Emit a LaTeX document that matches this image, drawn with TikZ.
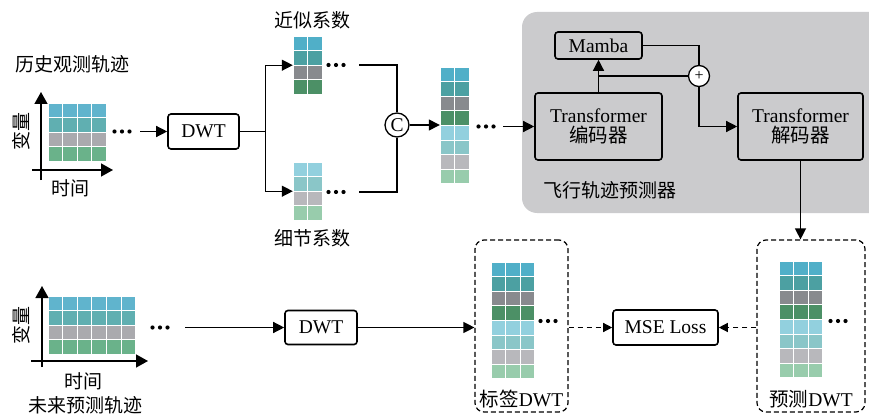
\documentclass[tikz,border=0pt]{standalone}
\usepackage{fontspec}
\setmainfont{Liberation Serif}
\newfontfamily\cjk{Noto Sans CJK SC}
\usetikzlibrary{arrows.meta, positioning}

\definecolor{panelgray}{RGB}{203,203,205}
\definecolor{hblue}{RGB}{96,180,205}
\definecolor{hteal}{RGB}{96,175,177}
\definecolor{hgray}{RGB}{170,170,174}
\definecolor{hgreen}{RGB}{106,178,138}
\definecolor{dblue}{RGB}{80,175,200}
\definecolor{dteal}{RGB}{76,160,162}
\definecolor{dgray}{RGB}{136,138,142}
\definecolor{dgreen}{RGB}{76,144,102}
\definecolor{lblue}{RGB}{146,208,222}
\definecolor{lteal}{RGB}{138,198,200}
\definecolor{lgray}{RGB}{184,184,188}
\definecolor{lgreen}{RGB}{152,204,172}

% grid of coefficient cells: name, left, top, columns, rows, colours
\newcommand{\coefgrid}[6]{%
  \foreach \rowcol [count=\ri from 0] in {#6}
    \foreach \k in {1,...,#4}
      \filldraw[fill=\rowcol, draw=white, line width=0.8pt]
        ({#2+(\k-1)*14.6}, {#3+\ri*14.6}) rectangle ++(14.6,14.6);
  \node[inner sep=0, minimum width={#4*14.6pt}, minimum height={#5*14.6pt}]
    (#1) at ({#2+#4*7.3}, {#3+#5*7.3}) {};
}
% three heavy dots: name, x, y
\newcommand{\dotrow}[3]{%
  \node[inner sep=0, minimum width=22pt, minimum height=6pt] (#1) at (#2,#3) {};
  \foreach \i in {-1,0,1} \fill ([xshift=\i*7.5pt]#1.center) circle (2.1pt);
}

\begin{document}
\begin{tikzpicture}[x=1pt, y=-1pt,
  font=\fontsize{19.5}{22}\selectfont,
  box/.style={draw, line width=1.6pt, rounded corners=3pt, inner sep=0pt},
  dashbox/.style={draw, dash pattern=on 5pt off 3pt, line width=1.2pt, rounded corners=9pt, inner sep=0pt},
  op/.style={draw, circle, line width=1.3pt, fill=white, inner sep=0pt},
  arrow/.style={-{Triangle[length=11pt, width=11pt]}, line width=1.3pt},
  dasharrow/.style={-{Triangle[length=9pt, width=9pt]}, line width=1.3pt, dash pattern=on 5pt off 4pt},
  axis/.style={-{Triangle[length=12pt, width=13pt]}, line width=1.5pt},
  txt/.style={font=\cjk\fontsize{19}{22}\selectfont},
]
\useasboundingbox (0,0) rectangle (869,414);
\clip (0,0) rectangle (869,414);

% predictor panel
\fill[panelgray, rounded corners=15pt] (522,12) rectangle (900,213);
\node[txt, anchor=west] (predname) at (540,190) {飞行轨迹预测器};

% history input
\node[txt, anchor=west] (histname) at (12,64) {历史观测轨迹};
\coefgrid{hist}{48}{103}{4}{4}{hblue,hteal,hgray,hgreen}
\draw[axis] (32,170) -- (113,170);
\draw[axis] (41,180) -- (41,92);
\node[txt, rotate=90] (histvar) at (21,132) {变量};
\node[txt] (histtime) at (70,188) {时间};
\dotrow{dotsA}{122}{131.5}
\node[box, minimum width=71pt, minimum height=35pt] (dwtA) at (203.5,131.5) {DWT};
\draw[arrow] ([xshift=7pt]dotsA.east) -- (dwtA.west);

% wavelet coefficients
\node[txt] (approxname) at (312,20) {近似系数};
\coefgrid{approx}{293}{36}{2}{4}{dblue,dteal,dgray,dgreen}
\dotrow{dotsB}{336}{65}
\node[txt] (detailname) at (312,238) {细节系数};
\coefgrid{detail}{293}{162}{2}{4}{lblue,lteal,lgray,lgreen}
\dotrow{dotsE}{336}{192}
\draw[line width=1.3pt] (dwtA.east) -- ++(26,0) coordinate (fork);
\draw[arrow] (fork) |- (approx.west);
\draw[arrow] (fork) |- (detail.west);

% concatenation
\node[op, minimum size=24pt] (cat) at (397,125) {C};
\draw[line width=1.3pt] ([xshift=12pt]dotsB.east) -| (cat.north);
\draw[line width=1.3pt] ([xshift=12pt]dotsE.east) -| (cat.south);
\coefgrid{catgrid}{440}{67}{2}{8}{dblue,dteal,dgray,dgreen,lblue,lteal,lgray,lgreen}
\draw[arrow] (cat.east) -- (catgrid.west |- cat.east);
\dotrow{dotsC}{486}{126.5}

% predictor
\node[box, minimum width=87pt, minimum height=27pt] (mamba) at (598.5,45.5) {Mamba};
\node[box, minimum width=127pt, minimum height=67pt, align=center] (enc) at (598.5,126.5)
  {Transformer\\[-2pt]{\cjk 编码器}};
\node[box, minimum width=125pt, minimum height=67pt, align=center] (dec) at (800.5,126.5)
  {Transformer\\[-2pt]{\cjk 解码器}};
\node[op, minimum size=21pt, font=\fontsize{16}{16}\selectfont] (plus) at (699,76) {+};
\draw[arrow] ([xshift=6pt]dotsC.east) -- (enc.west);
\draw[arrow] (enc.north) -- (mamba.south);
\draw[line width=1.3pt] (enc.north |- plus.west) -- (plus.west);
\draw[line width=1.3pt] (mamba.east) -| (plus.north);
\draw[arrow] (plus.south) |- (dec.west);

% future target
\coefgrid{fut}{48}{296}{6}{4}{hblue,hteal,hgray,hgreen}
\draw[axis] (31,361) -- (148,361);
\draw[axis] (42,367) -- (42,286);
\node[txt, rotate=90] (futvar) at (21,325) {变量};
\node[txt] (futtime) at (83,381) {时间};
\node[txt] (futname) at (85,405) {未来预测轨迹};
\dotrow{dotsD}{160}{327.5}
\node[box, minimum width=72pt, minimum height=34pt] (dwtB) at (321,327.5) {DWT};
\draw[arrow] ([xshift=14pt]dotsD.east) -- (dwtB.west);

% label and prediction coefficients
\node[dashbox, minimum width=93pt, minimum height=172pt] (labbox) at (521.5,326) {};
\coefgrid{labgrid}{491}{262}{3}{8}{dblue,dteal,dgray,dgreen,lblue,lteal,lgray,lgreen}
\dotrow{dotsF}{548}{321}
\node (labname) at (521.5,399) {{\cjk 标签}DWT};
\node[dashbox, minimum width=108pt, minimum height=172pt] (predbox) at (811,326) {};
\coefgrid{predgrid}{779}{261}{3}{8}{dblue,dteal,dgray,dgreen,lblue,lteal,lgray,lgreen}
\dotrow{dotsG}{838}{321}
\node (predlabel) at (811,399) {{\cjk 预测}DWT};
\draw[arrow] (dwtB.east) -- (dwtB.east -| labbox.west);
\draw[arrow] (dec.south) -- (dec.south |- predbox.north);

% loss
\node[box, minimum width=105pt, minimum height=35pt] (mse) at (665.5,327.5) {MSE Loss};
\draw[dasharrow] (labbox.east |- mse.west) -- (mse.west);
\draw[dasharrow] (predbox.west |- mse.east) -- (mse.east);
\end{tikzpicture}
\end{document}
